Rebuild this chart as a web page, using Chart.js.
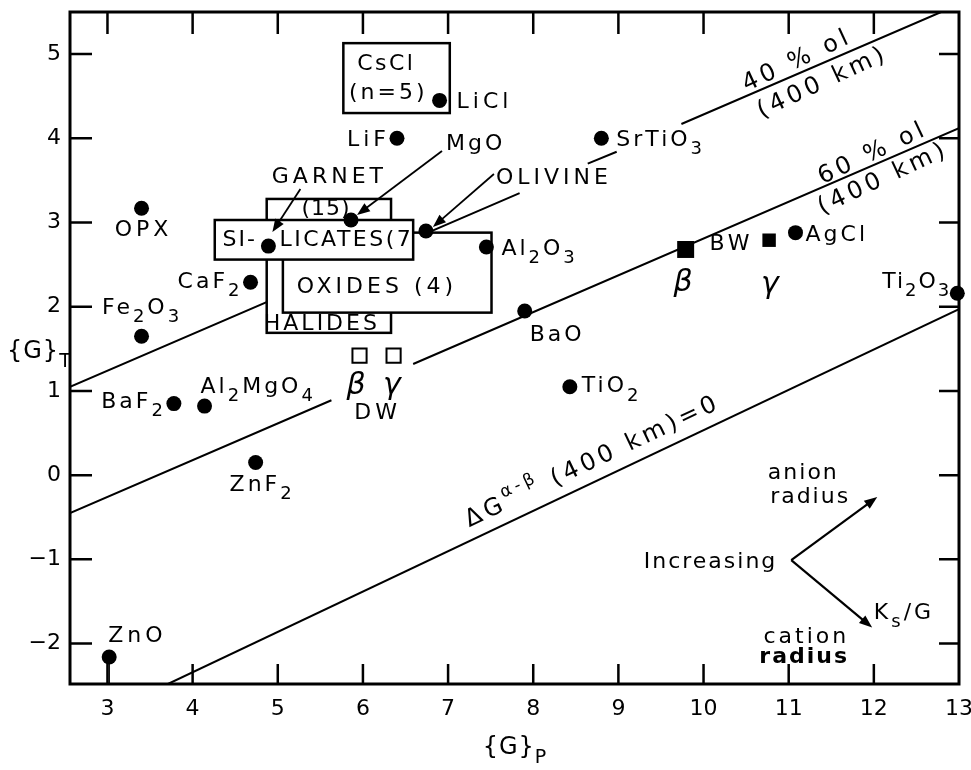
<!DOCTYPE html>
<html><head><meta charset="utf-8">
<script src="https://cdn.jsdelivr.net/npm/chart.js@4.4.0/dist/chart.umd.min.js"></script>
<style>html,body{margin:0;padding:0;background:#fff;}</style>
</head><body>
<canvas id="c" width="971" height="770"></canvas>
<script>
// ---------------- DATA ----------------
const compounds = ['OPX','Fe_2O_3','BaF_2','Al_2MgO_4','ZnF_2','CaF_2','ZnO','LiF','LiCl','SrTiO_3','BaO','TiO_2','AgCl','Ti_2O_3','Al_2O_3','MgO','GARNET','OLIVINE'];
const gP = [3.40, 3.40, 3.78, 4.14, 4.74, 4.68, 3.02, 6.40, 6.90, 8.80, 7.90, 8.43, 11.08, 12.98, 7.45, 5.86, 4.89, 6.74];
const gT = [3.17, 1.65, 0.85, 0.82, 0.15, 2.29, -2.16, 4.00, 4.45, 4.00, 1.95, 1.05, 2.88, 2.16, 2.71, 3.03, 2.72, 2.90];

const bwPhases = ['β','γ'];
const bwGP = [9.79, 10.77];
const bwGT = [2.68, 2.79];

const dwPhases = ['β','γ'];
const dwGP = [5.96, 6.36];
const dwGT = [1.42, 1.42];

const xTicks = [3,4,5,6,7,8,9,10,11,12,13];
const yTicks = [-2,-1,0,1,2,3,4,5];

// reference lines (null = gap in the drawn line)
const line40GP = [2.56, 7.84, null, 8.64, 8.98, null, 9.74, 12.79];
const line40GT = [1.05, 3.35, null, 3.70, 3.84, null, 4.17, 5.50];
const line60GP = [2.56, 5.63, null, 6.59, 13.00];
const line60GT = [-0.45, 0.89, null, 1.32, 4.12];
const lineDGGP = [3.71, 13.00];
const lineDGGT = [-2.48, 1.97];

// group boxes
const boxNames = ['HALIDES','OXIDES','SILICATES','CsCl'];
const boxGP0 = [4.87, 5.06, 4.26, 5.77];
const boxGP1 = [6.33, 7.51, 6.59, 7.02];
const boxGT0 = [1.69, 1.93, 2.56, 4.30];
const boxGT1 = [3.28, 2.88, 3.03, 5.13];

// ---------------- LAYOUT (pixel offsets / styles) ----------------
const FAM = '"DejaVu Sans", sans-serif';
const pointLabelLayout = {
 'OPX':[0,22,'center',4], 'Fe_2O_3':[-1,-28,'center',3], 'BaF_2':[-11,-1,'right',3], 'Al_2MgO_4':[-4,-19,'left',3],
 'ZnF_2':[5,23,'center',3], 'CaF_2':[-11,0,'right',3], 'ZnO':[-1,-21,'left',4], 'LiF':[-11,2,'right',4],
 'LiCl':[17,2,'left',4], 'SrTiO_3':[15,2,'left',3], 'BaO':[5,24,'left',3], 'TiO_2':[12,0,'left',3],
 'AgCl':[10,3,'left',3], 'Ti_2O_3':[-8,-11,'right',2], 'Al_2O_3':[15,2,'left',3], 'MgO':[95,-76,'left',3],
 'GARNET':[59,-69,'center',4], 'OLIVINE':[70,-53,'left',4]
};
const leaderArrows = { 'MgO':[91,-69,6,-5], 'GARNET':[32,-57,4,-14], 'OLIVINE':[68,-57,7,-4] };

function pts(xs, ys){
  let last = xs[0];
  return xs.map((v,i)=>{ if(v===null) return {x:last, y:null}; last=v; return {x:v, y:ys[i]}; });
}

function parseRich(s){
  const out=[]; let buf=''; let i=0;
  while(i<s.length){
    const c=s[i];
    if(c==='_'||c==='^'){
      if(buf){out.push({t:buf,k:0});buf='';}
      let t;
      if(s[i+1]==='{'){const j=s.indexOf('}',i+2); t=s.slice(i+2,j); i=j+1;}
      else {t=s[i+1]; i+=2;}
      out.push({t:t,k:c==='_'?1:-1});
    } else {buf+=c;i++;}
  }
  if(buf) out.push({t:buf,k:0});
  return out;
}
function drawRich(ctx,s,x,y,o){
  o=o||{};
  const size=o.size||22, sp=(o.sp!=null?o.sp:3);
  const pre=(o.italic?'italic ':'')+(o.bold?'bold ':'');
  const parts=parseRich(s);
  const fMain=pre+size+'px '+FAM, fSub=pre+Math.round(size*(o.subScale||0.8))+'px '+FAM;
  ctx.save();
  ctx.translate(x,y); if(o.rot) ctx.rotate(o.rot);
  ctx.fillStyle='#000'; ctx.textBaseline='middle'; ctx.textAlign='left';
  try{ ctx.letterSpacing=sp+'px'; }catch(e){}
  let total=0; const ws=[];
  parts.forEach(p=>{ctx.font=p.k?fSub:fMain; const w=ctx.measureText(p.t).width; ws.push(w); total+=w;});
  total-=sp;
  let cx = o.align==='left'?0:(o.align==='right'?-total:-total/2);
  parts.forEach((p,i)=>{
    ctx.font=p.k?fSub:fMain;
    const dy=p.k===1?size*0.42:(p.k===-1?-size*0.42:0);
    ctx.fillText(p.t,cx,dy); cx+=ws[i];
  });
  ctx.restore();
}
function arrow(ctx,x1,y1,x2,y2){
  const a=Math.atan2(y2-y1,x2-x1), L=13, W=5;
  ctx.beginPath(); ctx.moveTo(x1,y1); ctx.lineTo(x2-L*0.6*Math.cos(a),y2-L*0.6*Math.sin(a)); ctx.stroke();
  ctx.beginPath(); ctx.moveTo(x2,y2);
  ctx.lineTo(x2-L*Math.cos(a)+W*Math.sin(a), y2-L*Math.sin(a)-W*Math.cos(a));
  ctx.lineTo(x2-L*Math.cos(a)-W*Math.sin(a), y2-L*Math.sin(a)+W*Math.cos(a));
  ctx.closePath(); ctx.fill();
}

function drawBoxes(chart){
  const ctx=chart.ctx, xs=chart.scales.x, ys=chart.scales.y;
  const X=v=>xs.getPixelForValue(v), Y=v=>ys.getPixelForValue(v);
  ctx.save();
  ctx.lineWidth=2.5; ctx.strokeStyle='#000'; ctx.fillStyle='#fff';
  const rect=i=>{const x0=X(boxGP0[i]),x1=X(boxGP1[i]),y0=Y(boxGT1[i]),y1=Y(boxGT0[i]);
    ctx.fillStyle='#fff'; ctx.fillRect(x0,y0,x1-x0,y1-y0); ctx.strokeRect(x0,y0,x1-x0,y1-y0); return [x0,y0,x1,y1];};
  rect(0);
  drawRich(ctx,'(15)',X(5.56),Y(3.16),{sp:1});
  drawRich(ctx,'HALIDES',X(5.50),Y(1.79),{sp:3});
  rect(1);
  drawRich(ctx,'OXIDES (4)',X(6.14),Y(2.23),{sp:4});
  const r=rect(2);
  ctx.save(); ctx.beginPath(); ctx.rect(r[0],r[1],r[2]-r[0]-1,r[3]-r[1]); ctx.clip();
  drawRich(ctx,'SI-',X(4.35),Y(2.79),{align:'left',sp:2});
  drawRich(ctx,'LICATES(7)',X(5.02),Y(2.79),{align:'left',sp:2.5});
  ctx.restore();
  rect(3);
  drawRich(ctx,'CsCl',X(6.26),Y(4.88),{sp:2.5});
  drawRich(ctx,'(n=5)',X(6.28),Y(4.53),{sp:3});
  ctx.restore();
}

function drawOverlay(chart){
  const ctx=chart.ctx, xs=chart.scales.x, ys=chart.scales.y, a=chart.chartArea;
  const X=v=>xs.getPixelForValue(v), Y=v=>ys.getPixelForValue(v);
  ctx.save();
  ctx.strokeStyle='#000'; ctx.lineWidth=3;
  ctx.strokeRect(a.left,a.top,a.right-a.left,a.bottom-a.top);
  ctx.lineWidth=2.5;
  const TL=20;
  xTicks.forEach(v=>{ if(v>=13) return; const px=X(v);
    ctx.beginPath(); ctx.moveTo(px,a.bottom); ctx.lineTo(px,a.bottom-TL); ctx.moveTo(px,a.top); ctx.lineTo(px,a.top+TL+2); ctx.stroke(); });
  yTicks.forEach(v=>{ const py=Y(v);
    ctx.beginPath(); ctx.moveTo(a.left,py); ctx.lineTo(a.left+TL+2,py); ctx.moveTo(a.right,py); ctx.lineTo(a.right-TL,py); ctx.stroke(); });

  ctx.lineWidth=1.8; ctx.fillStyle='#000';
  compounds.forEach((n,i)=>{
    const L=pointLabelLayout[n]; const px=X(gP[i]), py=Y(gT[i]);
    drawRich(ctx,n,px+L[0],py+L[1],{align:L[2],sp:L[3]});
    const A=leaderArrows[n];
    if(A) arrow(ctx,px+A[0],py+A[1],px+A[2],py+A[3]);
  });
  drawRich(ctx,'BW',X(10.07),Y(2.74),{align:'left',sp:4});
  drawRich(ctx,bwPhases[0],X(9.76),Y(2.28),{size:30,italic:true,sp:0});
  drawRich(ctx,bwPhases[1],X(10.78),Y(2.25),{size:30,italic:true,sp:0});
  drawRich(ctx,dwPhases[0],X(5.92),Y(1.06),{size:30,italic:true,sp:0});
  drawRich(ctx,dwPhases[1],X(6.34),Y(1.06),{size:30,italic:true,sp:0});
  drawRich(ctx,'DW',X(6.15),Y(0.73),{sp:4});

  const ang=(gx,gy)=>{const i1=gx.length-1; return Math.atan2(Y(gy[i1])-Y(gy[0]), X(gx[i1])-X(gx[0]));};
  const a40=ang(line40GP,line40GT), a60=ang(line60GP,line60GT), aDG=ang(lineDGGP,lineDGGT);
  drawRich(ctx,'40 % ol',X(11.08),Y(4.91),{size:24,sp:4,rot:a40-0.03});
  drawRich(ctx,'(400 km)',X(11.38),Y(4.65),{size:24,sp:4,rot:a40-0.03});
  drawRich(ctx,'60 % ol',X(11.97),Y(3.81),{size:24,sp:4,rot:a60-0.03});
  drawRich(ctx,'(400 km)',X(12.09),Y(3.51),{size:24,sp:4,rot:a60-0.03});
  drawRich(ctx,'ΔG^{α-β} (400 km)=0',X(8.68),Y(0.15),{size:24,sp:4,rot:aDG,subScale:0.7});

  ctx.lineWidth=2.2;
  const vx=X(11.03), vy=Y(-1.01);
  arrow(ctx,vx,vy,X(12.04),Y(-0.26));
  arrow(ctx,vx,vy,X(11.98),Y(-1.81));
  drawRich(ctx,'Increasing',X(10.07),Y(-1.04),{sp:2});
  drawRich(ctx,'anion',X(11.16),Y(0.02),{sp:2});
  drawRich(ctx,'radius',X(11.24),Y(-0.26),{sp:2});
  drawRich(ctx,'K_s/G',X(12.00),Y(-1.64),{align:'left',sp:3});
  drawRich(ctx,'cation',X(11.19),Y(-1.93),{sp:3});
  drawRich(ctx,'radius',X(11.17),Y(-2.16),{sp:2,bold:true});

  drawRich(ctx,'{G}_T',7,Y(1.46),{align:'left',size:24,sp:1});
  drawRich(ctx,'{G}_P',(a.left+a.right)/2,748,{size:24,sp:1});
  ctx.restore();
}

const overlay = {
  id:'overlay',
  beforeDatasetsDraw(chart){ chart.$boxesDone=false; },
  beforeDatasetDraw(chart,args){
    const ds=chart.data.datasets[args.index];
    if(!chart.$boxesDone && ds.order<5){ drawBoxes(chart); chart.$boxesDone=true; }
  },
  afterDatasetsDraw(chart){
    if(!chart.$boxesDone){ drawBoxes(chart); chart.$boxesDone=true; }
    drawOverlay(chart);
  }
};

const lineStyle = {type:'line', borderColor:'#000', borderWidth:2, pointRadius:0, spanGaps:false, order:5, showLine:true, fill:false, tension:0};

new Chart(document.getElementById('c'), {
  type:'scatter',
  data:{ datasets:[
    Object.assign({label:'40 % ol', data:pts(line40GP,line40GT)}, lineStyle),
    Object.assign({label:'60 % ol', data:pts(line60GP,line60GT)}, lineStyle),
    Object.assign({label:'dG=0', data:pts(lineDGGP,lineDGGT)}, lineStyle),
    Object.assign({label:'ZnO stem', data:[{x:gP[6],y:gT[6]},{x:gP[6],y:-2.48}]}, lineStyle, {borderWidth:1.5}),
    {label:'compounds', data:pts(gP,gT), backgroundColor:'#000', borderColor:'#000', pointRadius:7.5, borderWidth:0, order:2, clip:false},
    {label:'BW', data:pts(bwGP,bwGT), pointStyle:'rect', pointRadius:[12,9.5], backgroundColor:'#000', borderColor:'#000', borderWidth:0, order:2, clip:false},
    {label:'DW', data:pts(dwGP,dwGT), pointStyle:'rect', pointRadius:10, backgroundColor:'#fff', borderColor:'#000', borderWidth:2, order:2, clip:false}
  ]},
  options:{
    responsive:false, animation:false, devicePixelRatio:1,
    layout:{padding:{top:10,right:11,left:0,bottom:0}},
    plugins:{legend:{display:false}, tooltip:{enabled:false}},
    elements:{point:{hoverRadius:0}},
    scales:{
      x:{type:'linear', min:2.56, max:13,
         grid:{display:false, drawTicks:false}, border:{display:false},
         ticks:{autoSkip:false, maxRotation:0, padding:12, color:'#000', font:{family:FAM, size:22}},
         afterBuildTicks:s=>{ s.ticks = xTicks.map(v=>({value:v})); },
         afterFit:s=>{ s.height = 86; s.paddingLeft=0; s.paddingRight=0; }},
      y:{type:'linear', min:-2.48, max:5.5,
         grid:{display:false, drawTicks:false}, border:{display:false},
         ticks:{autoSkip:false, padding:9, color:'#000', font:{family:FAM, size:22},
                callback:v=> v<0 ? '−'+Math.abs(v) : String(v)},
         afterBuildTicks:s=>{ s.ticks = yTicks.map(v=>({value:v})); },
         afterFit:s=>{ s.width = 70; s.paddingTop=0; s.paddingBottom=0; }}
    }
  },
  plugins:[overlay]
});
</script>
</body></html>
